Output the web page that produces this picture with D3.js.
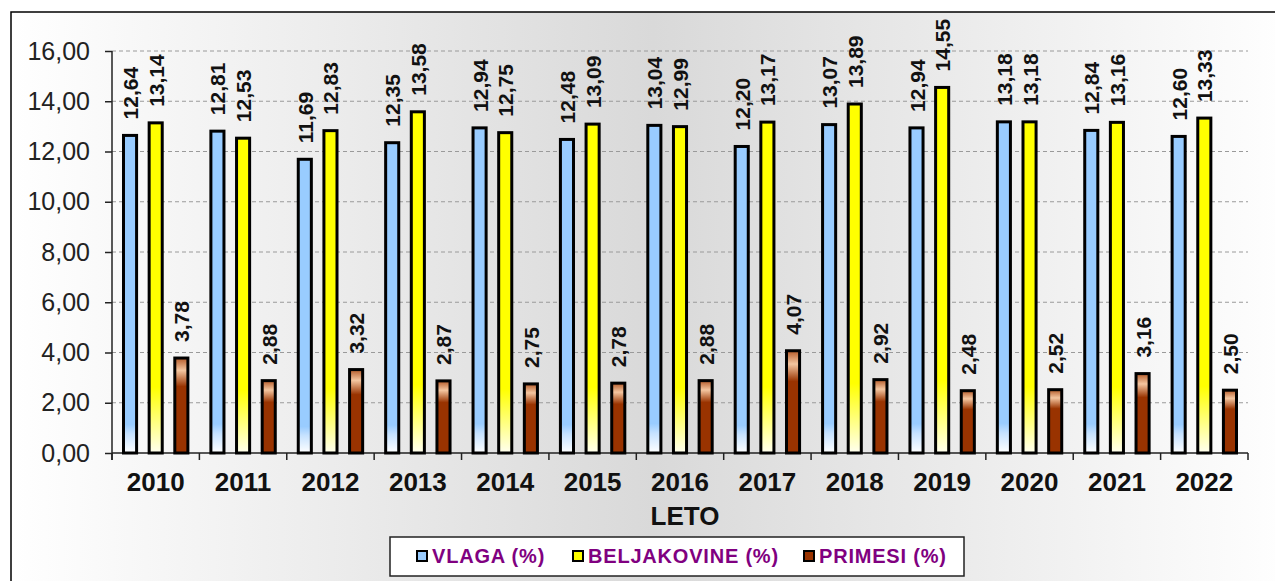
<!DOCTYPE html>
<html>
<head>
<meta charset="utf-8">
<script src="https://cdn.jsdelivr.net/npm/d3@7"></script>
<style>
  body { margin: 0; background: #fff; }
  text { font-family: Arial, "Liberation Sans", sans-serif; }
</style>
</head>
<body>
<div id="chart"></div>
<script>
var years = ["2010","2011","2012","2013","2014","2015","2016","2017","2018","2019","2020","2021","2022"]
var seriesNames = ["VLAGA (%)", "BELJAKOVINE (%)", "PRIMESI (%)"]
var vlaga = [12.64, 12.81, 11.69, 12.35, 12.94, 12.48, 13.04, 12.20, 13.07, 12.94, 13.18, 12.84, 12.60]
var beljakovine = [13.14, 12.53, 12.83, 13.58, 12.75, 13.09, 12.99, 13.17, 13.89, 14.55, 13.18, 13.16, 13.33]
var primesi = [3.78, 2.88, 3.32, 2.87, 2.75, 2.78, 2.88, 4.07, 2.92, 2.48, 2.52, 3.16, 2.50]
var yTicks = [0, 2, 4, 6, 8, 10, 12, 14, 16]

var W = 1275, H = 581
var plot = {left: 112, right: 1248, top: 51, bottom: 453}

var svg = d3.select("#chart").append("svg")
  .attr("width", W)
  .attr("height", H)

var defs = svg.append("defs")

// chart area background: light at the sides, grey in the middle
var bg = defs.append("linearGradient").attr("id", "bg")
  .attr("x1", "0").attr("x2", "1").attr("y1", "0").attr("y2", "0")
bg.append("stop").attr("offset", "0").attr("stop-color", "#ffffff")
bg.append("stop").attr("offset", "0.5").attr("stop-color", "#d9d9d9")
bg.append("stop").attr("offset", "1").attr("stop-color", "#ffffff")

function vGrad(id, stops) {
  var g = defs.append("linearGradient").attr("id", id)
    .attr("x1", "0").attr("x2", "0").attr("y1", "0").attr("y2", "1")
  stops.forEach(s => g.append("stop").attr("offset", s[0]).attr("stop-color", s[1]))
}
vGrad("g0", [[0, "#99ccff"], [0.91, "#99ccff"], [0.94, "#c6e2ff"], [1, "#ffffff"]])
vGrad("g1", [[0, "#ffff00"], [0.8, "#ffff00"], [1, "#fffff0"]])
vGrad("g2", [[0, "#b45a28"], [0.13, "#f4c6a0"], [0.3, "#993300"], [1, "#993300"]])
var legendFill = ["#99ccff", "#ffff00", "#993300"]

svg.append("rect")
  .attr("x", 11).attr("y", 12)
  .attr("width", W + 10).attr("height", H + 10)
  .attr("fill", "url(#bg)")
  .attr("stroke", "#000")
  .attr("stroke-width", 1.5)

var x0 = d3.scaleBand().domain(years).range([plot.left, plot.right]).padding(0)
var x1 = d3.scaleBand().domain([0, 1, 2])
  .range([10, x0.bandwidth() - 10])
  .paddingInner(0.373).paddingOuter(0)
var y = d3.scaleLinear().domain([0, 16]).range([plot.bottom, plot.top])

// grid
svg.append("g")
  .selectAll("line")
  .data(yTicks.filter(d => d > 0))
  .enter().append("line")
  .attr("x1", plot.left).attr("x2", plot.right)
  .attr("y1", d => y(d)).attr("y2", d => y(d))
  .attr("stroke", "#9a9a9a")
  .attr("stroke-width", 1)
  .attr("stroke-dasharray", "4,3")

// y axis
var yAxis = svg.append("g")
  .attr("transform", "translate(" + plot.left + ",0)")
  .call(d3.axisLeft(y).tickValues(yTicks).tickSize(7).tickPadding(15)
    .tickFormat(d => d3.format(".2f")(d).replace(".", ",")))
yAxis.select(".domain").attr("stroke", "#222").attr("stroke-width", 1.5)
  .attr("d", "M0," + (plot.bottom + 7) + "V" + plot.top)
yAxis.selectAll(".tick line").attr("stroke", "#222").attr("stroke-width", 1.5)
yAxis.selectAll(".tick text")
  .attr("font-size", 25).attr("fill", "#222")
  .attr("font-family", "Arial, 'Liberation Sans', sans-serif")

// x axis
var xAxis = svg.append("g").attr("transform", "translate(0," + plot.bottom + ")")
xAxis.append("line").attr("x1", plot.left).attr("x2", plot.right)
  .attr("stroke", "#222").attr("stroke-width", 1.5)
xAxis.selectAll(".xt")
  .data(years.concat(["end"]))
  .enter().append("line")
  .attr("x1", (d, i) => plot.left + i * x0.bandwidth())
  .attr("x2", (d, i) => plot.left + i * x0.bandwidth())
  .attr("y1", 0).attr("y2", 7)
  .attr("stroke", "#222").attr("stroke-width", 1.5)
xAxis.selectAll(".yl")
  .data(years)
  .enter().append("text")
  .attr("x", d => x0(d) + x0.bandwidth() / 2)
  .attr("y", 38)
  .attr("text-anchor", "middle")
  .attr("font-size", 26).attr("font-weight", "bold").attr("fill", "#111")
  .text(d => d)

svg.append("text")
  .attr("x", (plot.left + plot.right) / 2 + 5).attr("y", 525)
  .attr("text-anchor", "middle")
  .attr("font-size", 26).attr("font-weight", "bold").attr("fill", "#111")
  .text("LETO")

// bars
var series = [vlaga, beljakovine, primesi]
var fmt = d => d3.format(".2f")(d).replace(".", ",")
var sw = 3

series.forEach(function (vals, s) {
  var g = svg.append("g")
  g.selectAll("rect")
    .data(vals)
    .enter().append("rect")
    .attr("x", (d, i) => x0(years[i]) + x1(s) + sw / 2)
    .attr("y", d => y(d))
    .attr("width", x1.bandwidth() - sw)
    .attr("height", d => y(0) - y(d))
    .attr("fill", "url(#g" + s + ")")
    .attr("stroke", "#000")
    .attr("stroke-width", sw)

  g.selectAll("text")
    .data(vals)
    .enter().append("text")
    .attr("transform", (d, i) => {
      var cx = x0(years[i]) + x1(s) + x1.bandwidth() / 2
      return "translate(" + (cx + 8) + "," + (y(d) - 16) + ") rotate(-90)"
    })
    .attr("font-size", 21).attr("font-weight", "bold").attr("fill", "#111")
    .text(d => fmt(d))
})

// legend
var lg = svg.append("g")
lg.append("rect")
  .attr("x", 390).attr("y", 537)
  .attr("width", 574).attr("height", 39)
  .attr("fill", "#fff")
  .attr("stroke", "#222").attr("stroke-width", 1.5)
var legendX = [416, 572, 803]
seriesNames.forEach(function (name, i) {
  lg.append("rect")
    .attr("x", legendX[i] + 1).attr("y", 551)
    .attr("width", 10).attr("height", 10)
    .attr("fill", legendFill[i])
    .attr("stroke", "#000").attr("stroke-width", 2)
  lg.append("text")
    .attr("x", legendX[i] + 16).attr("y", 563)
    .attr("font-size", 20).attr("font-weight", "bold")
    .attr("letter-spacing", 0.8)
    .attr("fill", "#800080")
    .text(name)
})
</script>
</body>
</html>
